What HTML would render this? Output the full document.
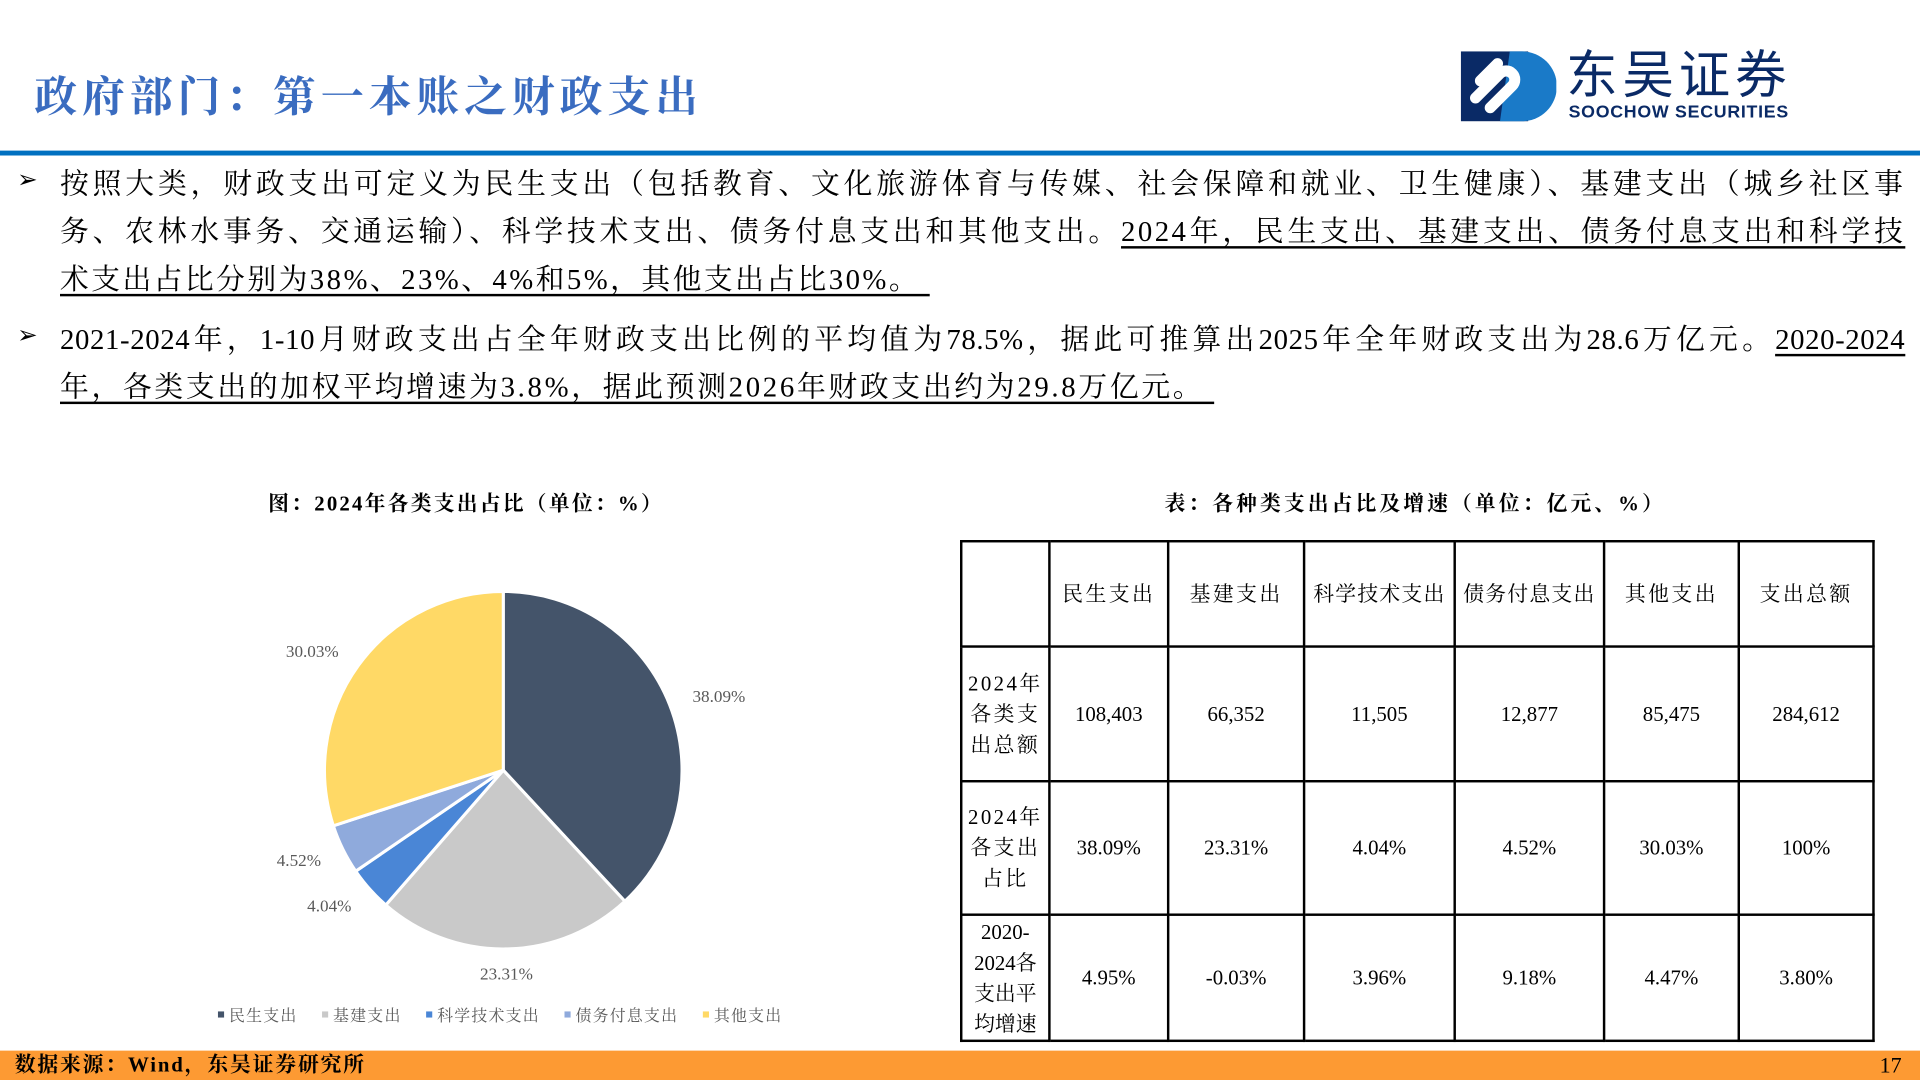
<!DOCTYPE html>
<html><head><meta charset="utf-8"><style>
html,body{margin:0;padding:0;background:#fff;width:1920px;height:1080px;overflow:hidden}
#s{position:absolute;left:0;top:0;width:1568px;height:882px;transform:scale(1.22449);transform-origin:0 0;font-family:"Liberation Serif","Noto Serif CJK SC",serif;color:#000}
.a{position:absolute}
.ln{position:absolute;left:49px;width:1507px;font-size:23.5px;line-height:39px;white-space:nowrap;text-align:justify;text-align-last:justify;letter-spacing:2px}
.ln.l{text-align-last:left}
u{text-decoration:underline;text-underline-offset:4px}
table{border-collapse:collapse;table-layout:fixed;position:absolute;left:784px;top:441px;width:745px;height:410px;font-size:17px}
td{border:2px solid #000;text-align:center;padding:0;line-height:25px}
.c{letter-spacing:2px}
</style></head><body>
<div id="s">
<div class="a" style="left:28px;top:52px;font-size:35px;font-weight:bold;color:#3a6cc0;letter-spacing:4px">政府部门：第一本账之财政支出</div>
<div class="a" style="left:1193px;top:40px;width:280px;height:62px">
<svg width="78" height="60" viewBox="0 0 78 60"><rect x="0" y="2" width="55" height="57" fill="#0a2a66"/><path d="M40 2 h10 a28 28 0 0 1 0 57 h-18 z" fill="#1a7ac8"/><path d="M12 40 L32 20 a7 7 0 0 1 10 10 L24 48" stroke="#fff" stroke-width="9" fill="none" stroke-linecap="round"/><path d="M30 12 L16 26" stroke="#fff" stroke-width="9" stroke-linecap="round"/></svg>
<div class="a" style="left:86px;top:-6px;font-family:'Noto Sans CJK SC',sans-serif;font-size:42px;color:#0a2a66;letter-spacing:4px;line-height:50px">东吴证券</div>
<div class="a" style="left:88px;top:44px;font-family:'Liberation Sans',sans-serif;font-weight:bold;font-size:14.5px;color:#0a2a66;letter-spacing:0.6px">SOOCHOW SECURITIES</div>
</div>
<div class="a" style="left:0;top:123px;width:1568px;height:4px;background:#0070c0"></div>
<div class="a" style="left:14px;top:134px;font-size:20px">➢</div>
<div>
<div class="ln" style="top:132px">按照大类，财政支出可定义为民生支出（包括教育、文化旅游体育与传媒、社会保障和就业、卫生健康）、基建支出（城乡社区事</div>
<div class="ln" style="top:171px">务、农林水事务、交通运输）、科学技术支出、债务付息支出和其他支出。<u>2024年，民生支出、基建支出、债务付息支出和科学技</u></div>
<div class="ln l" style="top:210px"><u>术支出占比分别为38%、23%、4%和5%，其他支出占比30%。&nbsp;</u></div>
</div>
<div class="a" style="left:14px;top:261px;font-size:20px">➢</div>
<div>
<div class="ln" style="top:259px;letter-spacing:0.5px">2021-2024年，1-10月财政支出占全年财政支出比例的平均值为78.5%，据此可推算出2025年全年财政支出为28.6万亿元。<u>2020-2024</u></div>
<div class="ln l" style="top:298px;letter-spacing:2.2px"><u>年，各类支出的加权平均增速为3.8%，据此预测2026年财政支出约为29.8万亿元。&nbsp;</u></div>
</div>
<div class="a" style="left:219px;top:397px;font-size:17px;font-weight:bold;letter-spacing:1.8px">图：2024年各类支出占比（单位：%）</div>
<div class="a" style="left:951px;top:397px;font-size:17px;font-weight:bold;letter-spacing:2.5px">表：各种类支出占比及增速（单位：亿元、%）</div>
<svg class="a" id="pie" style="left:150px;top:440px" width="560" height="410"></svg>
<table>
<colgroup><col style="width:72px"><col style="width:97px"><col style="width:111px"><col style="width:123px"><col style="width:122px"><col style="width:110px"><col style="width:110px"></colgroup>
<tr style="height:86px"><td></td><td class="c">民生支出</td><td class="c">基建支出</td><td style="letter-spacing:1px">科学技术支出</td><td style="letter-spacing:1px">债务付息支出</td><td class="c">其他支出</td><td class="c">支出总额</td></tr>
<tr style="height:110px"><td class="c">2024年<br>各类支<br>出总额</td><td>108,403</td><td>66,352</td><td>11,505</td><td>12,877</td><td>85,475</td><td>284,612</td></tr>
<tr style="height:109px"><td class="c">2024年<br>各支出<br>占比</td><td>38.09%</td><td>23.31%</td><td>4.04%</td><td>4.52%</td><td>30.03%</td><td>100%</td></tr>
<tr><td>2020-<br>2024各<br>支出平<br>均增速</td><td>4.95%</td><td>-0.03%</td><td>3.96%</td><td>9.18%</td><td>4.47%</td><td>3.80%</td></tr>
</table>
<div class="a" style="left:0;top:858px;width:1568px;height:24px;background:#fd9a33"></div>
<div class="a" style="left:12px;top:859px;font-size:17px;font-weight:bold;line-height:22px;letter-spacing:1.5px">数据来源：Wind，东吴证券研究所</div>
<div class="a" style="left:1535px;top:859px;font-size:18px;line-height:22px">17</div>
</div>
<script>
const categories=["民生支出","基建支出","科学技术支出","债务付息支出","其他支出"];
const shares=[38.09,23.31,4.04,4.52,30.03];
const colors=["#44546a","#c9c9c9","#4a86d6","#8faadc","#ffd966"];
const NS="http://www.w3.org/2000/svg";
const svg=document.getElementById('pie');
const cx=261,cy=189,r=146;
const total=shares.reduce((a,b)=>a+b,0);
let ang=0;
shares.forEach((v,i)=>{
  const a0=ang,a1=ang+v/total*2*Math.PI;ang=a1;
  const p=(a,rr)=>[cx+rr*Math.sin(a),cy-rr*Math.cos(a)];
  const [x0,y0]=p(a0,r),[x1,y1]=p(a1,r);
  const path=document.createElementNS(NS,'path');
  path.setAttribute('d',`M${cx},${cy} L${x0},${y0} A${r},${r} 0 ${a1-a0>Math.PI?1:0} 1 ${x1},${y1} Z`);
  path.setAttribute('fill',colors[i]);path.setAttribute('stroke','#fff');path.setAttribute('stroke-width','2.5');
  
  
  svg.appendChild(path);
  const m=(a0+a1)/2;const [lx,ly]=p(m,r+20);
  const t=document.createElementNS(NS,'text');
  t.setAttribute('x',lx);t.setAttribute('y',ly+5);
  t.setAttribute('text-anchor',Math.sin(m)>0.2?'start':(Math.sin(m)<-0.2?'end':'middle'));
  t.setAttribute('font-size','14');t.setAttribute('fill','#595959');t.setAttribute('font-family','Liberation Serif, serif');
  t.textContent=v.toFixed(2)+'%';
  
  
  svg.appendChild(t);
});
let lx=28;
categories.forEach((c,i)=>{
  const g=document.createElementNS(NS,'g');
  
  
  const rc=document.createElementNS(NS,'rect');
  rc.setAttribute('x',lx);rc.setAttribute('y',386);rc.setAttribute('width',5);rc.setAttribute('height',5);rc.setAttribute('fill',colors[i]);
  const t=document.createElementNS(NS,'text');
  t.setAttribute('x',lx+9);t.setAttribute('y',394);t.setAttribute('font-size','13');t.setAttribute('fill','#595959');t.setAttribute('letter-spacing','1');
  t.setAttribute('font-family','Liberation Serif, Noto Serif CJK SC, serif');t.textContent=c;
  g.appendChild(rc);g.appendChild(t);svg.appendChild(g);
  lx+=9+c.length*14+20;
});
</script>
</body></html>
